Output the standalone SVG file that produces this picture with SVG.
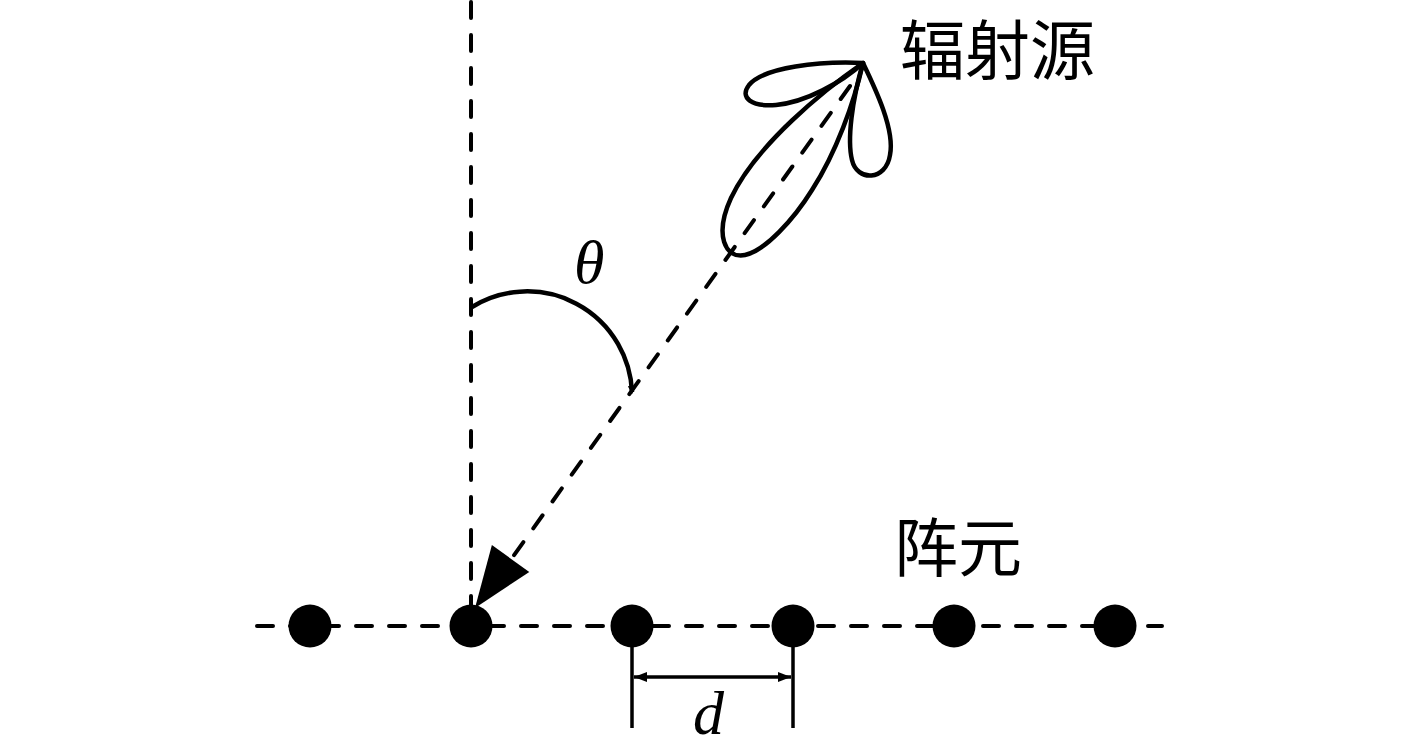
<svg xmlns="http://www.w3.org/2000/svg" width="1417" height="745" viewBox="0 0 1417 745">
<style>
.dash{fill:none;stroke:#000;stroke-width:4;stroke-linecap:round;stroke-dasharray:16 17}
.solid{fill:none;stroke:#000;stroke-width:3.5}
.lobe{fill:none;stroke:#000;stroke-width:4.5;stroke-linejoin:round}
.dot{fill:#000}
.cjk{font-family:"Noto Sans CJK SC","Noto Sans",sans-serif;fill:#000}
.math{font-family:"Liberation Serif","DejaVu Serif",serif;font-style:italic;fill:#000}
</style>
<defs>
<marker id="dimArrow" viewBox="0 0 13 10" refX="13" refY="5" markerWidth="13" markerHeight="10" markerUnits="userSpaceOnUse" orient="auto-start-reverse">
<path d="M0,0 L13,5 L0,10 Z" fill="#000"/>
</marker>
<marker id="arcArrow" viewBox="0 0 8 8" refX="6" refY="4" markerWidth="8" markerHeight="8" markerUnits="userSpaceOnUse" orient="auto">
<path d="M0,0 L8,4 L0,8 Z" fill="#000"/>
</marker>
</defs>
<rect width="1417" height="745" fill="#fff"/>
<g id="connectors">
<line class="dash" x1="471" y1="2" x2="471" y2="606"/>
<line class="dash" x1="257" y1="626" x2="1162" y2="626"/>
<line class="dash" x1="850" y1="86" x2="512" y2="558"/>
<polygon points="475,608 491.9,545.1 529.3,571.9" fill="#000"/>
<path class="lobe" d="M472,307 A105,105 0 0 1 632,392" marker-end="url(#arcArrow)"/>
<line class="solid" x1="632" y1="645" x2="632" y2="728"/>
<line class="solid" x1="793" y1="645" x2="793" y2="728"/>
<line class="solid" x1="634" y1="677" x2="791" y2="677" marker-start="url(#dimArrow)" marker-end="url(#dimArrow)"/>
</g>
<g id="source">
<path class="lobe" d="M863,63 C824,90 756,145 731,198 C714,235 725,259 745,255 C765,251 794,219 812,190 C836,153 854,103 863,63 Z"/>
<path class="lobe" d="M863,63 C820,61 764,67 749,85 C739,98 752,107 776,105 C806,102 841,83 863,63 Z"/>
<path class="lobe" d="M863,63 C852,100 847,140 852,160 C857,182 886,181 890,155 C895,130 876,90 863,63 Z"/>
<text class="cjk" x="900" y="74" font-size="65">辐射源</text>
</g>
<g id="elements">
<circle class="dot" cx="310" cy="626" r="21.5"/>
<circle class="dot" cx="471" cy="626" r="21.5"/>
<circle class="dot" cx="632" cy="626" r="21.5"/>
<circle class="dot" cx="793" cy="626" r="21.5"/>
<circle class="dot" cx="954" cy="626" r="21.5"/>
<circle class="dot" cx="1115" cy="626" r="21.5"/>
<text class="cjk" x="894" y="571" font-size="64">阵元</text>
</g>
<g id="labels">
<text class="math" x="574" y="283" font-size="62">θ</text>
<text class="math" x="693" y="734" font-size="62">d</text>
</g>
</svg>
